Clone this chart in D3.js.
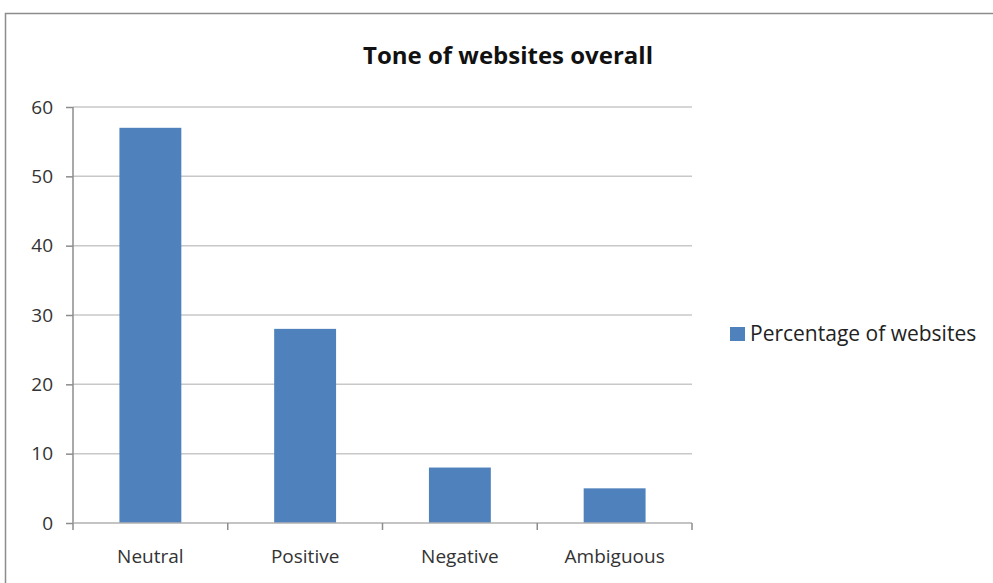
<!DOCTYPE html>
<html>
<head>
<meta charset="utf-8">
<script src="https://cdn.jsdelivr.net/npm/d3@7"></script>
<style>
  body { margin: 0; background: #fff; }
  svg text { font-family: "Open Sans", "Liberation Sans", sans-serif; }
</style>
</head>
<body>
<div id="chart"></div>
<script>
// data
var categories = ["Neutral", "Positive", "Negative", "Ambiguous"]
var values = [57, 28, 8, 5]
var yTicks = [0, 10, 20, 30, 40, 50, 60]
var seriesName = "Percentage of websites"
var title = "Tone of websites overall"

var width = 993, height = 583
var plot = { left: 73, right: 692, top: 107, bottom: 523 }
var barColor = "#4f81bd"

var svg = d3.select("#chart").append("svg")
    .attr("width", width)
    .attr("height", height)

// outer frame
svg.append("rect")
    .attr("x", 5.5).attr("y", 13.5)
    .attr("width", width + 20).attr("height", height + 20)
    .attr("fill", "none")
    .attr("stroke", "#8c8c8c")
    .attr("stroke-width", 1.5)

svg.append("text")
    .attr("x", 508).attr("y", 64)
    .attr("text-anchor", "middle")
    .attr("font-size", 24)
    .attr("font-weight", "bold")
    .attr("fill", "#111")
    .text(title)

var x = d3.scaleBand()
    .domain(categories)
    .range([plot.left, plot.right])
    .paddingInner(0.6)
    .paddingOuter(0.3)

var y = d3.scaleLinear()
    .domain([0, 60])
    .range([plot.bottom, plot.top])

// gridlines
svg.append("g")
  .selectAll("line")
  .data(yTicks.filter(d => d > 0))
  .join("line")
    .attr("x1", plot.left).attr("x2", plot.right)
    .attr("y1", d => y(d)).attr("y2", d => y(d))
    .attr("stroke", "#c8c8c8")
    .attr("stroke-width", 1.5)

// bars
svg.append("g")
  .selectAll("rect")
  .data(values)
  .join("rect")
    .attr("x", (d, i) => x(categories[i]))
    .attr("y", d => y(d))
    .attr("width", x.bandwidth())
    .attr("height", d => y(0) - y(d))
    .attr("fill", barColor)

// y axis
var yAxis = svg.append("g")
    .attr("transform", "translate(" + plot.left + ",0)")
    .call(d3.axisLeft(y).tickValues(yTicks).tickSize(7).tickPadding(13))
yAxis.selectAll("path, line").attr("stroke", "#8c8c8c").attr("stroke-width", 1.5)
yAxis.select(".domain").attr("d", "M0," + plot.top + "V" + plot.bottom)
yAxis.selectAll("text").attr("font-size", 19).attr("fill", "#333")
    .style("font-family", "'Open Sans', sans-serif")

// x axis
var xAxis = svg.append("g")
    .attr("transform", "translate(0," + plot.bottom + ")")
    .call(d3.axisBottom(x).tickSize(0).tickPadding(27))
xAxis.select(".domain").attr("stroke", "#b0b0b0").attr("stroke-width", 1.5)
    .attr("d", "M" + plot.left + ",0H" + plot.right)
xAxis.selectAll("text").attr("font-size", 19).attr("fill", "#333")
    .style("font-family", "'Open Sans', sans-serif")

// category boundary ticks
var bounds = categories.map(c => x(c) - x.step() * x.paddingInner() / 2)
bounds.push(plot.right)
xAxis.append("g")
  .selectAll("line")
  .data(bounds)
  .join("line")
    .attr("x1", d => d).attr("x2", d => d)
    .attr("y1", 0).attr("y2", 7)
    .attr("stroke", "#8c8c8c")
    .attr("stroke-width", 1.5)

// legend
var legend = svg.append("g").attr("transform", "translate(730,327)")
legend.append("rect")
    .attr("width", 15).attr("height", 14)
    .attr("fill", barColor)
legend.append("text")
    .attr("x", 20).attr("y", 7)
    .attr("dy", "0.35em")
    .attr("font-size", 21)
    .attr("fill", "#222")
    .text(seriesName)
</script>
</body>
</html>
